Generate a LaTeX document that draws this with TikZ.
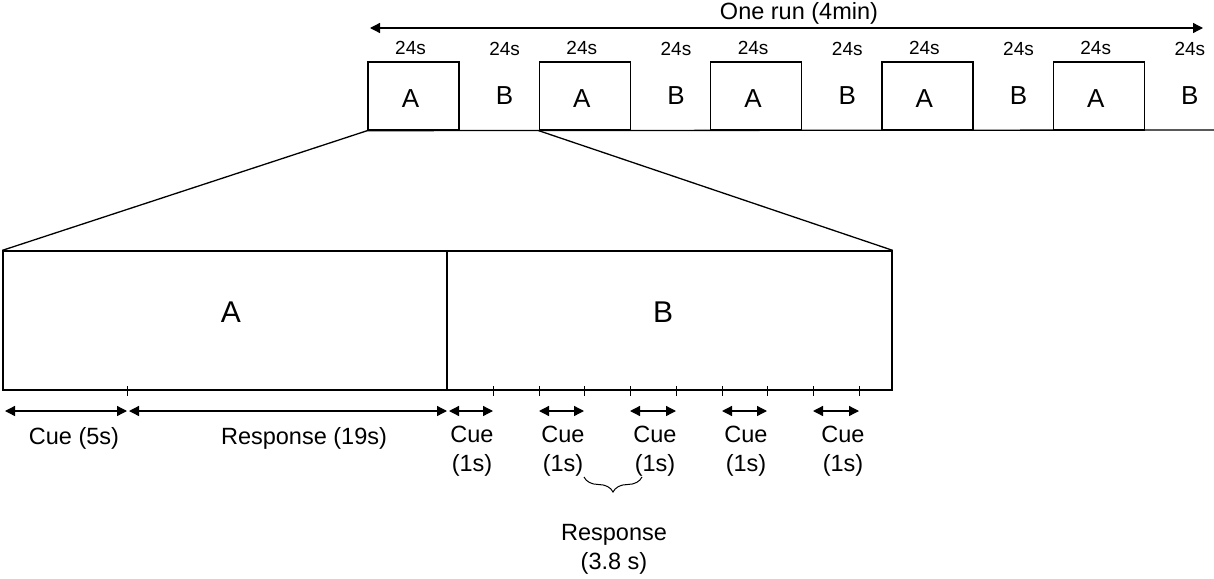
\documentclass[tikz,border=0pt]{standalone}
\usepackage{fontspec}
\setmainfont{Liberation Sans}
\usetikzlibrary{arrows.meta,positioning,decorations.pathreplacing,calc}

\begin{document}
\begin{tikzpicture}
        [   x = 1pt
        ,   y = -1pt
        ,   line width = 1.3pt
        ,   every node/.style = {inner sep = 0pt}
        ,   span/.style = {{Triangle[length=10pt,width=10pt]}-{Triangle[length=10pt,width=10pt]}}
        ,   trialbox/.style = {draw, minimum width = 91pt, minimum height = 68pt}
        ,   letter/.style = {font = \fontsize{26}{28}\selectfont}
        ,   dur/.style = {font = \fontsize{19}{21}\selectfont}
        ,   lbl/.style = {font = \fontsize{23.5}{29}\selectfont, align = center}
        ]
        \useasboundingbox (0,0) rectangle (1214,578);

        % one run
        \coordinate (runL) at (370,28);
        \coordinate (runR) at (1203,28);
        \draw [span] (runL) -- (runR);
        \node [lbl] (run) at (799,13) {One run (4min)};

        % blocks
        \foreach \i in {0,...,4}
        {
            \node [trialbox] (A\i) at (413.5+171.3*\i,96) {};
            \node [letter] (Aname\i) at ($(A\i.center)+(-3,3)$) {A};
            \node [letter] (B\i) at ($(A\i.east)+(45,0)$) {B};
            \node [dur] (dA\i) at ($(A\i.north)+(-3,-13)$) {24s};
            \node [dur] (dB\i) at ($(B\i.center)+(0,-47)$) {24s};
        }
        \coordinate (lineR) at (1214,130);
        \draw (A0.south west) -- (lineR);

        % zoom
        \node [draw, minimum width = 444pt, minimum height = 139pt] (bigA) at (225,320.5) {};
        \node [draw, minimum width = 445pt, minimum height = 139pt] (bigB) at (669.5,320.5) {};
        \node [font = \fontsize{30}{32}\selectfont] (nameA) at (231,312) {A};
        \node [font = \fontsize{30}{32}\selectfont] (nameB) at (663,312) {B};
        \draw (A0.south west) -- (bigA.north west);
        \draw (A1.south west) -- (bigB.north east);

        % ticks
        \foreach \x [count=\k] in {127,493,539,584,630,676,722,767,813,859}
        {
            \coordinate (tu\k) at (\x,386);
            \coordinate (td\k) at (\x,396);
            \draw [line width = 1pt] (tu\k) -- (td\k);
        }

        % cue / response spans
        \foreach \a/\b [count=\k] in {5/127,129/447,449/493,539/584,630/676,722/767,813/859}
        {
            \coordinate (l\k) at (\a,411);
            \coordinate (r\k) at (\b,411);
            \draw [span] (l\k) -- (r\k);
        }
        \node [lbl] (cue5) at (74,438) {Cue (5s)};
        \node [lbl] (resp19) at (304,438) {Response (19s)};
        \foreach \x [count=\k] in {472,563,655,746,843}
        {
            \node [lbl] (cue\k) at (\x,451) {Cue\\(1s)};
        }

        % response between cues
        \coordinate (brL) at (584,477);
        \coordinate (brR) at (642,477);
        \draw [line width = 1pt, decorate, decoration = {brace, mirror, amplitude = 15pt}] (brL) -- (brR);
        \node [lbl] (resp38) at (614,549) {Response\\(3.8 s)};
    \end{tikzpicture}
\end{document}
